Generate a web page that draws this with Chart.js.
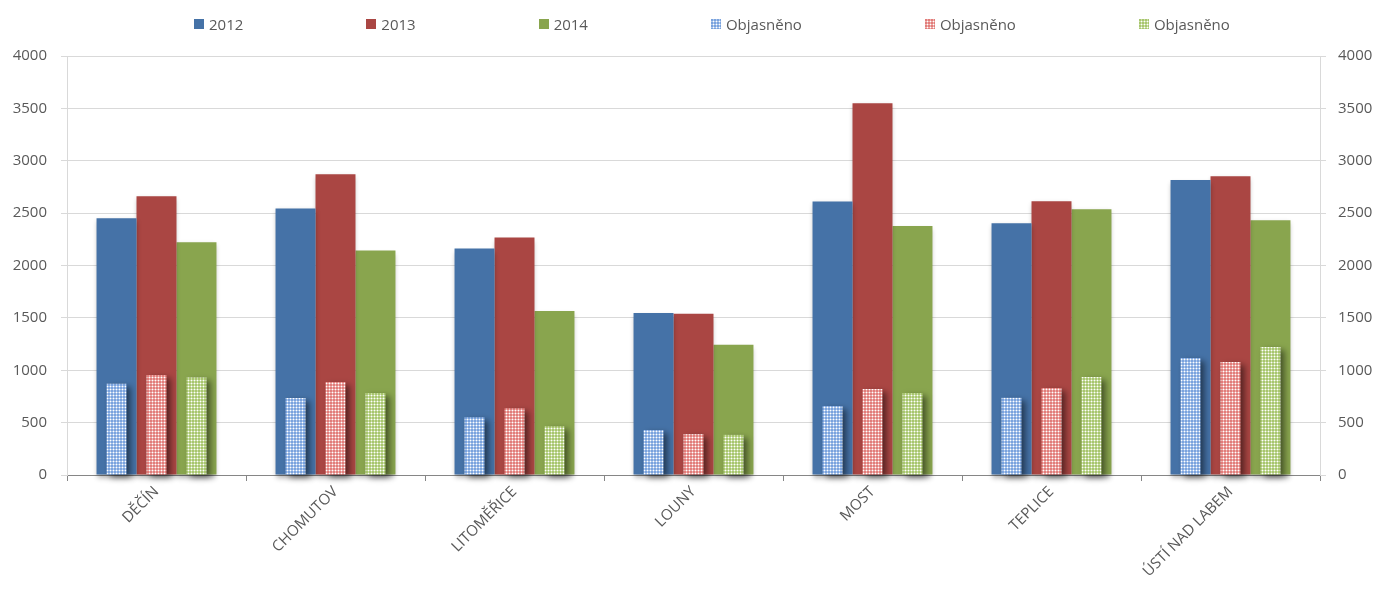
<!DOCTYPE html>
<html lang="cs">
<head>
<meta charset="utf-8">
<title>Skutky a objasněnost podle okresů</title>
<script src="https://cdn.jsdelivr.net/npm/chart.js@4.4.1/dist/chart.umd.min.js"></script>
<style>
  body { margin: 0; background: #fff; }
  #obal { position: relative; width: 1380px; height: 590px; }
  #legenda {
    position: absolute; left: 194px; top: 14px;
    display: flex; gap: 123px;
    font: 15px 'Open Sans', sans-serif; color: #595959;
  }
  .polozka { display: flex; align-items: center; white-space: nowrap; }
  .polozka canvas { margin-right: 5px; }
</style>
</head>
<body>
<div id="obal">
  <canvas id="graf" width="1380" height="590"></canvas>
  <div id="legenda"></div>
</div>
<script>
// data
const okresy = ['DĚČÍN', 'CHOMUTOV', 'LITOMĚŘICE', 'LOUNY', 'MOST', 'TEPLICE', 'ÚSTÍ NAD LABEM'];
const roky = ['2012', '2013', '2014'];
const skutky2012 = [2450, 2545, 2162, 1547, 2612, 2403, 2817];
const skutky2013 = [2662, 2872, 2267, 1540, 3548, 2614, 2853];
const skutky2014 = [2223, 2143, 1566, 1243, 2378, 2538, 2433];
const objasneno2012 = [870, 736, 552, 430, 658, 737, 1116];
const objasneno2013 = [955, 887, 638, 390, 820, 830, 1078];
const objasneno2014 = [930, 783, 465, 383, 782, 935, 1221];
const osaMax = 4000;
const osaKrok = 500;

const barvy = ['#4572A7', '#AA4643', '#89A54E'];
const barvyVzor = ['#7AA3DE', '#E27D7A', '#A8C66E'];

// vlastní typ sloupce, aby se objasněné skutky seskupovaly zvlášť
class ObjasnenoController extends Chart.BarController {}
ObjasnenoController.id = 'objasneno';
ObjasnenoController.defaults = Chart.BarController.defaults;
Chart.register(ObjasnenoController);

/**
 * Vzor "mřížka" pro objasněné skutky
 */
function vzor(barva) {
  let c = document.createElement('canvas');
  c.width = 3;
  c.height = 3;
  let ctx = c.getContext('2d');
  ctx.fillStyle = barva;
  ctx.fillRect(0, 0, 3, 3);
  ctx.fillStyle = 'rgba(255,255,255,0.4)';
  ctx.fillRect(2, 0, 1, 3);
  ctx.fillRect(0, 2, 3, 1);
  ctx.fillStyle = '#fff';
  ctx.fillRect(2, 2, 1, 1);
  return c;
}

const ctx = document.getElementById('graf').getContext('2d');
const vzory = barvyVzor.map(b => ctx.createPattern(vzor(b), 'repeat'));

const skutky = [skutky2012, skutky2013, skutky2014];
const objasneno = [objasneno2012, objasneno2013, objasneno2014];

let datasets = [];
roky.forEach((rok, i) => {
  datasets.push({
    type: 'bar',
    label: rok,
    data: skutky[i],
    backgroundColor: barvy[i],
    borderWidth: 0,
    order: 1,
    clip: false,
    categoryPercentage: 0.67,
    barPercentage: 1
  });
});
roky.forEach((rok, i) => {
  datasets.push({
    type: 'objasneno',
    label: 'Objasněno',
    data: objasneno[i],
    backgroundColor: vzory[i],
    borderWidth: 0,
    order: 0,
    clip: false,
    categoryPercentage: 0.67,
    barPercentage: 0.5
  });
});

// stíny pod sloupci
const stiny = {
  id: 'stiny',
  beforeDatasetDraw(chart, args) {
    let c = chart.ctx;
    c.save();
    if (args.meta.type === 'objasneno') {
      c.shadowColor = 'rgba(0,0,0,0.5)';
      c.shadowBlur = 6;
      c.shadowOffsetX = 4;
      c.shadowOffsetY = 3;
    } else {
      c.shadowColor = 'rgba(0,0,0,0.3)';
      c.shadowBlur = 5;
      c.shadowOffsetY = 3;
    }
  },
  afterDatasetDraw(chart) {
    chart.ctx.restore();
  }
};

const pismo = { family: "'Open Sans', sans-serif", size: 15 };
const seda = '#595959';

new Chart(ctx, {
  type: 'bar',
  data: { labels: okresy, datasets: datasets },
  options: {
    responsive: false,
    animation: false,
    layout: { padding: { top: 56 } },
    plugins: {
      legend: { display: false },
      tooltip: { enabled: false }
    },
    scales: {
      x: {
        offset: true,
        grid: { offset: true, drawOnChartArea: false, color: '#868686', tickLength: 6 },
        border: { color: '#868686' },
        ticks: { font: pismo, color: seda, minRotation: 45, maxRotation: 45, autoSkip: false, padding: 2 },
        afterFit: (s) => { s.height = 115; }
      },
      y: {
        position: 'left',
        min: 0,
        max: osaMax,
        ticks: { stepSize: osaKrok, font: pismo, color: seda, padding: 14, callback: (v) => v },
        grid: { color: '#D9D9D9', tickLength: 6 },
        border: { color: '#D9D9D9' },
        afterFit: (s) => { s.width = 67; }
      },
      y2: {
        position: 'right',
        min: 0,
        max: osaMax,
        ticks: { stepSize: osaKrok, font: pismo, color: seda, padding: 12, callback: (v) => v },
        grid: { drawOnChartArea: false, color: '#D9D9D9', tickLength: 6 },
        border: { color: '#D9D9D9' },
        afterFit: (s) => { s.width = 60; }
      }
    }
  },
  plugins: [stiny]
});

// legenda
const legenda = document.getElementById('legenda');
datasets.forEach((ds) => {
  let el = document.createElement('div');
  el.className = 'polozka';
  let box = document.createElement('canvas');
  box.width = 10;
  box.height = 10;
  let bc = box.getContext('2d');
  bc.fillStyle = ds.backgroundColor;
  bc.fillRect(0, 0, 10, 10);
  el.appendChild(box);
  el.appendChild(document.createTextNode(ds.label));
  legenda.appendChild(el);
});
</script>
</body>
</html>
